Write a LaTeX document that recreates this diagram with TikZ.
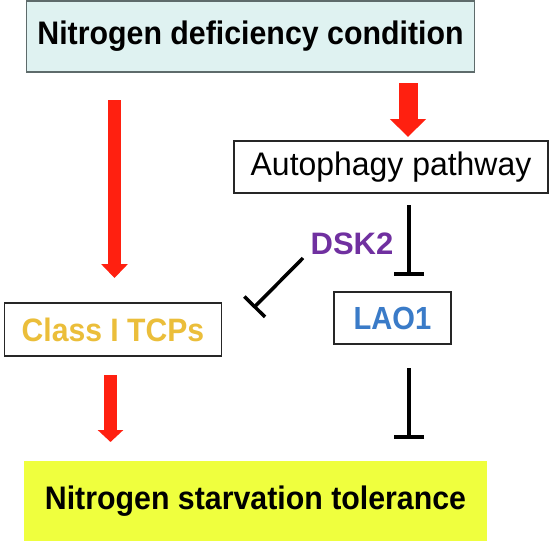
\documentclass[tikz,border=0pt]{standalone}
\usepackage{fontspec}
\setmainfont{Liberation Sans}
\newfontfamily\bcond[FakeStretch=0.93]{Liberation Sans}
\newfontfamily\lcond[FakeStretch=0.91]{Liberation Sans}
\newfontfamily\rcond[FakeStretch=0.98]{Liberation Sans}
\usetikzlibrary{arrows.meta}
\definecolor{topfill}{HTML}{DFF2F1}
\definecolor{topdraw}{HTML}{5E6B6B}
\definecolor{redarrow}{HTML}{FF2010}
\definecolor{dskpurple}{HTML}{7030A0}
\definecolor{tcpgold}{HTML}{EBBE3A}
\definecolor{laoblue}{HTML}{3A7BC8}
\definecolor{bottomfill}{HTML}{EFFF3E}
\tikzset{
  box/.style={draw=black!85, line width=1.3pt, inner sep=0pt, align=center},
  bigtext/.style={font=\bcond\bfseries\fontsize{32.6}{36}\selectfont},
  redarr/.style={draw=redarrow, line cap=butt},
  inhib/.style={draw=black, line width=4pt, -{Bar[width=30pt]}},
}
\begin{document}
\begin{tikzpicture}[x=1pt,y=-1pt]
\useasboundingbox (0,0) rectangle (550,541);
\fill[white] (0,0) rectangle (550,541);

\node[box, draw=topdraw, line width=1.8pt, fill=topfill, minimum width=448pt, minimum height=71pt, bigtext] (top) at (250.5,36.5) {Nitrogen deficiency condition};

\node[box, minimum width=314pt, minimum height=52pt, font=\rcond\fontsize{32.6}{36}\selectfont] (auto) at (391,167) {Autophagy pathway};

\node[text=dskpurple, inner sep=0pt, font=\fontsize{31}{34}\selectfont\bfseries] (dsk) at (352,244) {DSK2};

\node[box, minimum width=217pt, minimum height=53pt, text=tcpgold, font=\bcond\bfseries\fontsize{32.4}{36}\selectfont] (tcp) at (113,329.5) {Class I TCPs};

\node[box, minimum width=117pt, minimum height=52pt, text=laoblue, font=\lcond\bfseries\fontsize{32}{36}\selectfont] (lao) at (392.5,318) {LAO1};

\node[fill=bottomfill, inner sep=0pt, minimum width=463pt, minimum height=80pt, bigtext] (tol) at (255.5,501) {Nitrogen starvation tolerance};

% red arrows
\coordinate (a1s) at (114.5,100);
\coordinate (a1e) at (114.5,278);
\draw[redarr, line width=13pt, -{Triangle[width=26pt,length=14pt]}] (a1s) -- (a1e);

\coordinate (a2s) at (408,83);
\coordinate (a2e) at (408,137);
\draw[redarr, line width=19pt, -{Triangle[width=35pt,length=18pt]}] (a2s) -- (a2e);

\coordinate (a3s) at (110.5,375);
\coordinate (a3e) at (110.5,442);
\draw[redarr, line width=13pt, -{Triangle[width=25pt,length=12pt]}] (a3s) -- (a3e);

% inhibition lines
\coordinate (i1s) at (409,205);
\coordinate (i1e) at (409,276);
\draw[inhib] (i1s) -- (i1e);

\coordinate (i2s) at (409,368);
\coordinate (i2e) at (409,439);
\draw[inhib] (i2s) -- (i2e);

\coordinate (i3s) at (303,258);
\coordinate (i3e) at (253.5,308);
\draw[inhib, line width=3.5pt, -{Bar[width=29pt]}] (i3s) -- (i3e);
\end{tikzpicture}
\end{document}
